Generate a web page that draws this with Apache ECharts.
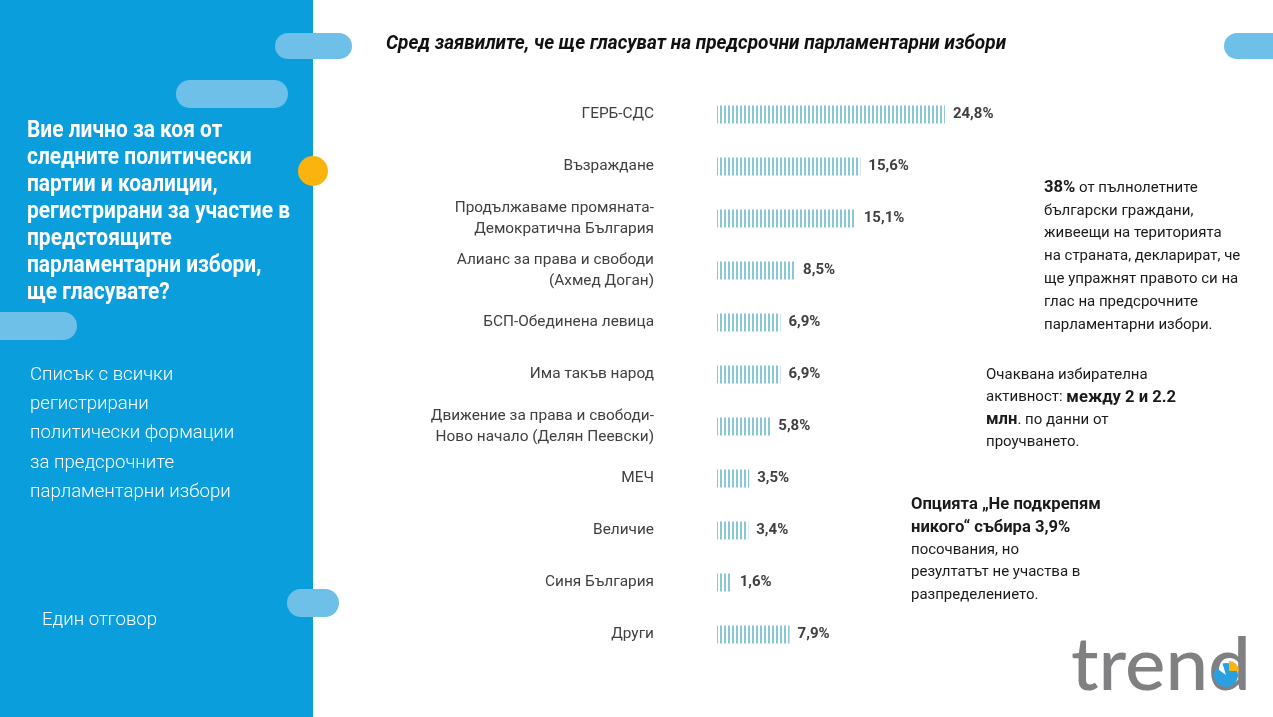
<!DOCTYPE html>
<html><head><meta charset="utf-8">
<script src="https://cdn.jsdelivr.net/npm/echarts@6/dist/echarts.min.js"></script>
<style>html,body{margin:0;padding:0;background:#fff}#c{width:1273px;height:717px}</style>
</head><body><div id="c"></div>
<script>
const categories = ['ГЕРБ-СДС','Възраждане','Продължаваме промяната-\nДемократична България','Алианс за права и свободи\n(Ахмед Доган)','БСП-Обединена левица','Има такъв народ','Движение за права и свободи-\nНово начало (Делян Пеевски)','МЕЧ','Величие','Синя България','Други'];
const values = [24.8,15.6,15.1,8.5,6.9,6.9,5.8,3.5,3.4,1.6,7.9];

const chart = echarts.init(document.getElementById('c'), null, {renderer:'canvas'});

const pc = document.createElement('canvas');
pc.width = 4; pc.height = 8;
const g = pc.getContext('2d');
g.fillStyle = '#ffffff'; g.fillRect(0,0,4,8);
g.fillStyle = '#88c7d4'; g.fillRect(0,0,2,8);

const FONT = 'Roboto';
const blue = '#0a9edc';
const pill = '#6fc0e8';

function pillRect(x,y,w,h){
  return {type:'rect', shape:{x:x,y:y,width:w,height:h,r:h/2}, style:{fill:pill}, z:5};
}

const leftTitle = ['Вие лично за коя от','следните политически','партии и коалиции,','регистрирани за участие в','предстоящите','парламентарни избори,','ще гласувате?'];
const leftSub = ['Списък с всички','регистрирани','политически формации','за предсрочните','парламентарни избори'];

const graphics = [
  {type:'rect', shape:{x:0,y:0,width:313,height:717}, style:{fill:blue}, z:1},
  pillRect(275,33,77,26),
  pillRect(176,80,112,28),
  pillRect(-20,312,97,28),
  pillRect(287,589,52,28),
  pillRect(1224,33,70,26),
  {type:'circle', shape:{cx:313,cy:171,r:15}, style:{fill:'#fbb40e'}, z:6},
];
leftTitle.forEach((t,i)=>{
  graphics.push({type:'text', x:27, y:131+i*27, scaleX:0.91, z:10,
    style:{text:t, fill:'#fff', font:'bold 23px '+FONT, textVerticalAlign:'middle'}});
});
leftSub.forEach((t,i)=>{
  graphics.push({type:'text', x:30, y:375+i*29.3, scaleX:0.98, z:10,
    style:{text:t, fill:'#fff', font:'300 19px '+FONT, textVerticalAlign:'middle'}});
});
graphics.push({type:'text', x:42, y:620, scaleX:0.98, z:10,
  style:{text:'Един отговор', fill:'#fff', font:'300 19px '+FONT, textVerticalAlign:'middle'}});
graphics.push({type:'text', x:386, y:44, scaleX:0.95, z:10,
  style:{text:'Сред заявилите, че ще гласуват на предсрочни парламентарни избори', fill:'#111', font:'italic bold 20px '+FONT, textVerticalAlign:'middle'}});

const note1 = ['{b|38%} от пълнолетните','български граждани,','живеещи на територията','на страната, декларират, че','ще упражнят правото си на','глас на предсрочните','парламентарни избори.'];
const note2 = ['Очаквана избирателна','активност: {b|между 2 и 2.2}','{b|млн}. по данни от','проучването.'];
const note3 = ['{b|Опцията „Не подкрепям}','{b|никого“ събира 3,9%}','посочвания, но','резултатът не участва в','разпределението.'];
function note(lines,x,y,lh){
  lines.forEach((t,i)=>{
    graphics.push({type:'text', x:x, y:y+i*lh, z:10,
      style:{text:t, fill:'#1a1a1a', font:'15px '+FONT, textVerticalAlign:'middle',
        rich:{b:{font:'bold 16.6px '+FONT, fill:'#1a1a1a'}}}});
  });
}
note(note1,1044,188,22.8);
note(note2,986,375,22.5);
note(note3,911,505,22.5);

// logo
graphics.push({type:'text', x:1071, y:666, scaleX:1.03, z:10,
  style:{text:'trend', fill:'#808082', font:'500 74px Lato', textVerticalAlign:'middle', textAlign:'left'}});
graphics.push({type:'sector', shape:{cx:1226,cy:675,r:12,r0:0,startAngle:-Math.PI/2-0.3,endAngle:Math.PI*1.2}, style:{fill:'#2aa0e0'}, z:11});
graphics.push({type:'sector', shape:{cx:1229,cy:671,r:10,r0:0,startAngle:-Math.PI/2,endAngle:0}, style:{fill:'#fbb40e'}, z:11});

chart.setOption({
  animation:false,
  backgroundColor:'#fff',
  grid:{left:717, top:88.5, height:572, width:275.7, containLabel:false},
  xAxis:{type:'value', min:0, max:30, show:false},
  yAxis:{type:'category', data:categories, inverse:true,
    axisLine:{show:false}, axisTick:{show:false}, splitLine:{show:false},
    axisLabel:{margin:63, color:'#404040', fontFamily:FONT, fontSize:15.4, lineHeight:21, align:'right'}},
  series:[{type:'bar', data:values, barWidth:18,
    itemStyle:{color:{image:pc, repeat:'repeat'}},
    label:{show:true, position:'right', distance:8, color:'#404040', fontFamily:FONT, fontWeight:'bold', fontSize:15,
      formatter:p=>p.value.toFixed(1).replace('.',',')+'%'}}],
  graphic:graphics
});
</script></body></html>
